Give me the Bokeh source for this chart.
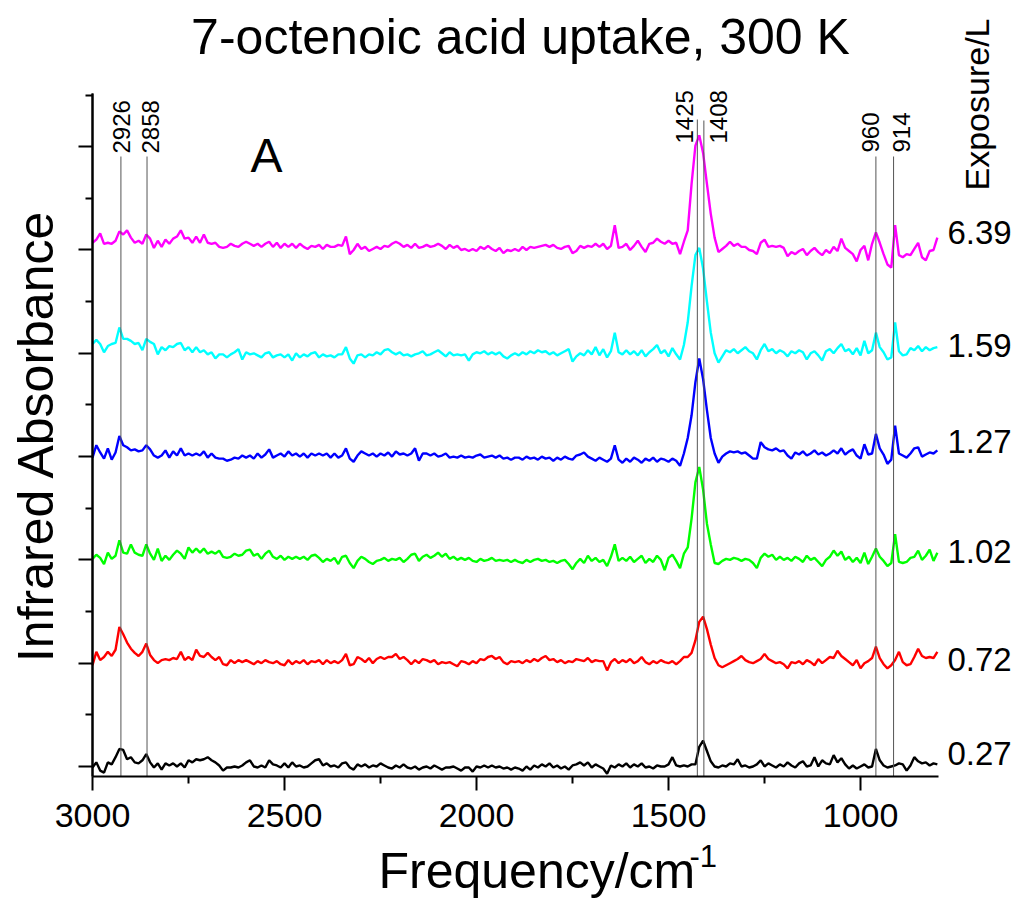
import math
from bokeh.plotting import figure
from bokeh.models import Range1d, FixedTicker, Label, ColumnDataSource, LinearAxis
from bokeh.embed import file_html
from bokeh.resources import INLINE

# ---------------- data ----------------
freq = list(range(3000, 799, -10))  # wavenumber grid, cm-1 (3000 ... 800)

exposures = ["0.27", "0.72", "1.02", "1.27", "1.59", "6.39"]
peaks = [2926, 2858, 1425, 1408, 960, 914]
x_major_ticks = [3000, 2500, 2000, 1500, 1000]
x_minor_ticks = [2750, 2250, 1750, 1250]

black_027 = [
    -1, 4, -4, -6, 4, 2, 9, 17, 16, 7, 9, 4, 3, 6, 12, 4, -1, 3, -3, 3,
    1, 3, 0, 3, -1, 6, 4, 7, 6, 7, 9, 6, 4, 1, -4, -1, -1, 0, -1, 1,
    4, 6, 0, -1, 1, -1, 6, 2, 1, -1, 3, -1, 4, 0, 1, -1, 0, 3, 6, 7,
    1, 3, 0, 1, -1, 3, 4, -1, -3, 2, 0, 2, -1, 1, 0, 3, 1, -1, -2, 1,
    -1, 2, -1, -2, 0, -3, -1, 0, -2, 1, -1, -3, -1, -1, 0, -2, -4, -1, -1, -5,
    0, -1, 1, -1, 1, -1, 0, -2, -1, -3, -1, -2, -4, 0, -3, 1, -1, 2, 0, 3,
    -1, 1, -2, 0, -3, 1, 2, 4, 1, 4, -1, 2, 0, -2, -7, 1, -1, 2, 0, 3,
    -1, 2, 0, 3, -1, 0, -2, 1, 0, 0, 2, 9, 1, 0, 1, 0, 2, 2, 19, 25,
    15, 5, 0, -1, 1, 0, 3, 2, 7, 0, 1, -1, 0, 2, 6, 0, 3, 1, -1, 2,
    0, 4, 1, -1, 3, 5, 0, 1, 9, 0, 6, 3, 2, 11, 4, 8, 2, -2, 1, -2,
    0, 2, -1, 0, 17, 6, 1, -1, 0, 1, 3, 2, -4, 1, 9, 5, 3, 4, 1, 3,
    2]

red_072 = [
    -2, 11, 3, 6, 11, 7, 13, 35, 28, 20, 14, 10, 7, 11, 19, 8, 3, 0, 3, 4,
    3, 5, 4, 11, 3, 6, 3, 13, 7, 6, 10, 6, 3, 6, -1, -2, 3, 0, 3, 1,
    3, 1, -1, 2, 0, 3, 1, 0, 2, -1, -2, 3, -1, 2, 0, 3, -1, 2, 1, 3,
    -1, 3, 0, 2, 0, 3, 9, -2, -1, 6, 4, 1, 5, 0, 4, 6, 4, 6, 6, 9,
    4, 6, 3, -1, 3, 0, 4, 3, 1, 3, -1, 1, 0, 1, -1, -3, 2, 1, -1, 2,
    0, 4, 3, 6, 7, 4, 6, 1, -1, 2, 1, 2, 0, 3, 1, 4, 2, 5, 7, 3,
    4, 1, 3, 0, 2, 1, 4, 3, 2, 5, 1, 3, 2, 2, -7, 1, 4, 0, 3, 1,
    4, 0, 2, 6, 1, -1, 2, 0, 3, 1, 0, 2, -1, 2, 6, 6, 10, 22, 40, 45,
    33, 18, 5, -2, -4, -2, 0, 2, 4, 7, 3, 1, 0, 2, 4, 9, 4, 2, 0, 1,
    -1, -5, 1, 0, 2, -1, 3, 1, -2, 4, 0, 3, 6, 5, 12, 7, 4, 1, -2, 3,
    -5, 0, 2, 5, 16, 5, -1, -5, -2, 3, 11, 1, -2, -1, 6, 14, 7, 5, 6, 5,
    11]

green_102 = [
    1, 5, 2, -4, 7, 1, 4, 19, 7, 6, 15, 7, 5, 4, 15, 6, 0, 11, -1, 4,
    0, 5, 9, 6, 1, 12, 7, 11, 7, 11, 6, 8, 6, 9, 3, 2, 3, 6, 4, 5,
    9, 10, 4, 6, 1, 6, 9, 3, 1, 4, 0, 3, 1, 3, 1, 3, 0, 4, 5, 2,
    -2, 1, -1, 2, -4, 3, 4, -3, -8, -1, 3, 1, -2, -4, -1, 0, 2, -1, 1, 0,
    2, -2, 1, 5, 6, -1, 3, 5, 2, 4, 7, 3, 6, 1, 3, 0, 2, 0, 2, -1,
    -2, 1, -1, 0, 2, -1, 0, -1, 0, -2, 0, -2, -3, 0, -2, 0, 1, -1, 0, -2,
    -1, -3, -1, 0, -4, -9, -3, 1, -3, 4, -1, 2, -2, 0, -6, 3, 15, -1, 2, -1,
    3, -2, 1, 4, -3, 1, -2, 4, 0, -10, 2, 5, -1, -8, 6, 12, 40, 75, 90, 68,
    35, 15, -3, -4, -1, 1, 0, 2, 1, -1, 1, 0, -3, -8, 2, 6, 3, 5, 0, 3,
    0, 2, -1, 3, 1, -2, 4, 0, 2, -2, -6, 0, 3, 9, 4, 8, 0, 3, -2, 2,
    -3, 7, -4, 3, 11, 3, -1, -6, -3, 25, -2, -3, -2, 2, 3, 9, 0, 4, 10, -1,
    7]

blue_127 = [
    -1, 11, 4, -2, 8, -3, 4, 20, 11, 9, 6, 7, 5, 6, 11, 7, 1, -1, 1, 6,
    -1, 5, 1, 8, 1, 3, 1, 3, 1, 5, -1, 3, -1, -2, -2, -4, -3, -1, -2, 1,
    -1, 1, -2, 3, -1, 2, 7, -1, 1, 3, 0, 5, 1, 3, 0, 3, -1, 3, 1, 3,
    1, 3, -1, 3, -1, 1, 8, -2, -5, 1, 5, 3, 1, 3, 0, 3, 1, 4, 0, 5,
    2, 3, 1, 3, 8, -4, 3, 3, 1, 3, 0, 1, 3, -1, 0, -1, 1, -1, 0, -1,
    1, 2, -1, 0, 1, -1, 1, -2, -1, -3, -1, -1, -3, 0, -2, -1, -3, 0, -2, -1,
    -4, -1, -3, 0, -2, -3, 1, 2, 4, 0, -2, -4, -1, -3, -5, -2, 11, -3, -6, -2,
    -5, -1, -3, -6, -2, -4, -1, -5, -2, -3, -5, -2, -4, -9, 3, 18, 40, 72, 95, 75,
    45, 18, 3, -6, 0, 3, 5, 4, 5, 3, 4, 1, -2, -2, 14, 9, 7, 6, 8, 5,
    6, 1, -2, 4, 2, 5, 1, 3, 6, 2, 4, 1, 3, 6, 3, 8, 2, 5, 7, 1,
    -2, 12, 2, 3, 22, 8, 2, -7, -3, 30, 3, 1, -1, 3, 8, 9, 0, 2, 4, 3,
    6]

cyan_159 = [
    9, 13, 9, 1, 7, 9, 10, 25, 14, 14, 12, 9, 10, 3, 14, 11, 9, -1, 6, 3,
    7, 6, 9, 10, 3, 6, 1, 6, 1, 3, -1, 1, -5, -1, -1, -4, -1, 1, 4, -6,
    1, -1, 0, -2, -4, 0, 1, -4, -2, -1, -4, -1, -7, 0, -4, -1, -3, 0, 1, -4,
    -1, -3, -2, -4, -1, -1, 6, -5, -10, -2, -1, -4, -1, -2, 1, -1, 3, 4, 1, -1,
    1, -2, -1, -3, -1, 0, 2, -2, -1, 1, 3, 0, -3, 1, -2, -1, -2, -1, -7, -1,
    1, 0, 2, -1, 1, -1, 1, -3, -5, -2, 0, -2, 1, -1, 2, 0, 3, 1, 2, -1,
    1, -2, 0, 2, 4, -8, -3, 0, -2, 3, -1, 6, -2, 4, -4, 2, 20, 1, -1, 3,
    -1, 2, -2, 3, -3, 1, 4, 8, 0, 3, -3, 5, -1, -6, 8, 30, 65, 95, 102, 82,
    50, 20, 0, -9, -3, 3, 1, 4, 0, 3, 6, 2, 0, -6, 3, 9, 2, 4, 0, 3,
    1, -3, 2, 0, 3, 1, -6, 0, 2, -2, -7, 2, 4, 0, 5, 9, 2, 4, -1, 5,
    -2, 12, 0, 3, 20, 6, 1, -6, -4, 30, 2, -2, -1, 5, 3, 7, 2, 6, 3, 5,
    6]

magenta_639 = [
    7, 10, 16, 6, 7, 6, 9, 18, 15, 19, 12, 7, 9, 6, 15, 11, 2, 9, 3, 10,
    6, 11, 13, 19, 11, 12, 7, 13, 7, 15, 7, 6, 7, 3, 2, 3, 6, 4, 3, 6,
    8, 6, 4, 6, 3, 6, 8, 3, 7, 2, 6, 3, 6, 2, 6, 3, 1, 4, 3, 5,
    1, 5, 3, 3, 5, 4, 13, -4, 0, 6, 1, 3, -1, 1, 3, 1, 4, 3, 6, 8,
    6, 3, 5, 2, 6, 2, 3, 5, 3, 4, 6, 4, 1, 5, 2, 4, 0, 1, -1, 1,
    -1, 3, 1, 4, 1, -1, 2, -3, 0, -1, 1, -1, 3, 0, 3, 2, 3, 4, 5, 3,
    5, 2, 1, 3, 4, -3, -1, 4, 2, 4, 3, 6, 3, 6, 1, 4, 24, 2, 3, 6,
    0, 4, 9, 3, -2, 6, 7, 11, 8, 6, 9, 6, 7, -4, 8, 19, 64, 101, 111, 94,
    64, 35, 12, -2, 1, 4, 8, 4, 6, 3, 3, 0, -1, -4, 7, 10, 3, 4, 3, 4,
    2, -6, -2, -4, -1, 1, -5, -1, 2, -2, -5, 0, -3, 3, -1, 11, 2, -1, -4, -11,
    0, 4, -10, 6, 17, 7, -4, -14, -17, 24, -5, -7, -4, -5, 1, 7, -7, -10, -1, 0,
    12]

series = [black_027, red_072, green_102, blue_127, cyan_159, magenta_639]

# ---------------- presentation ----------------
colors = ["#000000", "#FF0000", "#00FF00", "#0000FF", "#00FFFF", "#FF00FF"]
offsets = [0, 100, 200, 300, 400, 500]
y_major = [0, 100, 200, 300, 400, 500, 600]
y_minor = [50, 150, 250, 350, 450, 550, 650]

W, H = 1023, 899
X0, X1 = 3000, 797          # plotted frequency span
Y0, Y1 = -9.7, 651.5        # plotted absorbance span (offset units)
FL, FR, FT, FB = 92, 938, 93, 776   # where that span sits on the canvas, px


def px2x(px):
    return X0 + (px - FL) * (X1 - X0) / (FR - FL)


def py2y(py):
    return Y0 + (FB - py) * (Y1 - Y0) / (FB - FT)


FONT = "Liberation Sans"

p = figure(width=W, height=H, output_backend="svg", toolbar_location=None,
           x_range=Range1d(px2x(0), px2x(W)), y_range=Range1d(py2y(H), py2y(0)),
           min_border=0)
p.outline_line_color = None
p.xgrid.visible = False
p.ygrid.visible = False
p.background_fill_color = "white"
p.border_fill_color = "white"


def style_axis(ax, major_out, minor_out):
    ax.axis_line_width = 2
    ax.axis_line_color = "black"
    ax.major_tick_line_width = 2
    ax.minor_tick_line_width = 2
    ax.major_tick_line_color = "black"
    ax.minor_tick_line_color = "black"
    ax.major_tick_in = 0
    ax.major_tick_out = major_out
    ax.minor_tick_in = 0
    ax.minor_tick_out = minor_out
    ax.major_label_text_font = FONT
    ax.major_label_text_color = "black"


# x axis (fixed at the bottom of the plotted span)
xa = p.xaxis[0]
style_axis(xa, 14, 7)
xa.ticker = FixedTicker(ticks=x_major_ticks, minor_ticks=x_minor_ticks)
xa.fixed_location = Y0
xa.bounds = (X1, X0)
xa.major_label_text_font_size = "34px"
xa.major_label_standoff = 13

# y axis: unlabeled; short ticks on this one ...
ya = p.yaxis[0]
style_axis(ya, 0, 7)
ya.ticker = FixedTicker(ticks=[], minor_ticks=y_minor)
ya.fixed_location = X0
ya.bounds = (Y0, Y1)
# ... long ticks on a second one at the same place
ya2 = LinearAxis()
style_axis(ya2, 0, 14)
ya2.ticker = FixedTicker(ticks=[], minor_ticks=y_major)
ya2.fixed_location = X0
ya2.bounds = (Y0, Y1)
p.add_layout(ya2, "left")

# spectra
for vals, off, col in zip(series, offsets, colors):
    src = ColumnDataSource(dict(x=freq, y=[v + off for v in vals]))
    p.line("x", "y", source=src, line_color=col, line_width=2.4)

# peak marker lines
line_top_px = [156, 156, 119, 120, 156, 156]
p.segment(x0=peaks, x1=peaks, y0=[Y0] * len(peaks),
          y1=[py2y(t) for t in line_top_px], line_color="#555555", line_width=1)


def mid_label(text, cx, cy, size, align="center", angle=0.0, x_data=None, dx=0):
    p.add_layout(Label(x=px2x(cx) if x_data is None else x_data, y=py2y(cy),
                       x_offset=dx, text=text, angle=angle, text_align=align,
                       text_baseline="middle", text_font=FONT,
                       text_font_size=f"{size}px", text_color="black"))


# peak labels
lab_dx = [1, 3, -13, 15, -5, 8]
lab_start_px = [153, 153, 143, 143, 152, 152]
for pk, dx, sp in zip(peaks, lab_dx, lab_start_px):
    mid_label(str(pk), None, sp, 24, align="left", angle=math.pi / 2, x_data=pk, dx=dx)

# exposure labels
exp_center_px = [753, 659, 551, 441, 345, 232]
for e, cy in zip(exposures, exp_center_px):
    mid_label(e, 947, cy, 33, align="left")

mid_label("Exposure/L", 976, 190, 34, align="left", angle=math.pi / 2)

# title
mid_label("7-octenoic acid uptake, 300 K", 520, 36, 50)

# panel letter
mid_label("A", 266, 155, 48)

# axis titles
mid_label("Infrared Absorbance", 35, 435, 50, angle=math.pi / 2)
mid_label("Frequency/cm", 378, 870, 50, align="left")
mid_label("-1", 689, 855, 31, align="left")

open("out.html", "w").write(file_html(p, INLINE))
